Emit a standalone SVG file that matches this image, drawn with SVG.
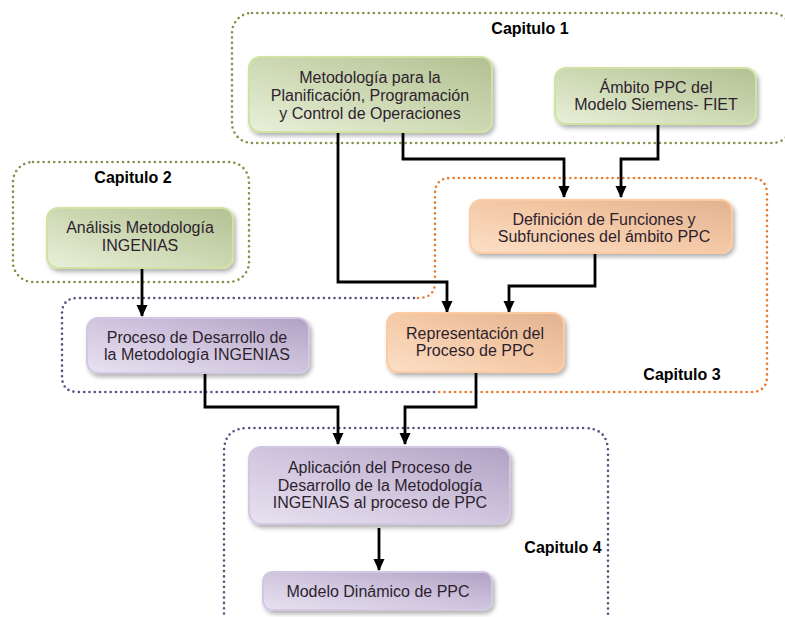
<svg xmlns="http://www.w3.org/2000/svg" width="785" height="617" viewBox="0 0 785 617">
  <defs>
    <linearGradient id="gGreen" x1="0" y1="1" x2="1" y2="0">
      <stop offset="0" stop-color="#e9f0da"/>
      <stop offset="0.55" stop-color="#cad6af"/>
      <stop offset="1" stop-color="#b3c092"/>
    </linearGradient>
    <linearGradient id="gOrange" x1="0" y1="1" x2="1" y2="0">
      <stop offset="0" stop-color="#fcdfc6"/>
      <stop offset="0.55" stop-color="#f3c7a4"/>
      <stop offset="1" stop-color="#e2b290"/>
    </linearGradient>
    <linearGradient id="gPurple" x1="0" y1="1" x2="1" y2="0">
      <stop offset="0" stop-color="#e8e2f0"/>
      <stop offset="0.55" stop-color="#cdc2dc"/>
      <stop offset="1" stop-color="#b0a1c3"/>
    </linearGradient>
    <filter id="shadow" x="-10%" y="-10%" width="125%" height="140%">
      <feDropShadow dx="2" dy="3" stdDeviation="2" flood-color="#000" flood-opacity="0.3"/>
    </filter>
    <marker id="arrow" markerUnits="userSpaceOnUse" markerWidth="12" markerHeight="12" viewBox="0 0 12 12" refX="11" refY="6" orient="auto">
      <path d="M0,0.5 L12,6 L0,11.5 z" fill="#000"/>
    </marker>
  </defs>
  <style>
    .txt { font-family: "Liberation Sans", Arial, sans-serif; font-size: 16px; fill: #2e1f2e; text-anchor: middle; }
    .cap { font-family: "Liberation Sans", Arial, sans-serif; font-size: 16px; font-weight: bold; fill: #000; text-anchor: middle; }
    .dot { fill: none; stroke-width: 2.6; stroke-linecap: round; stroke-dasharray: 0 5.3; }
    .dg { stroke: #7a9444; }
    .do { stroke: #e8782a; }
    .dp { stroke: #5f4c80; }
    .green { fill: url(#gGreen); stroke: #d0e2a4; stroke-width: 2; filter: url(#shadow); }
    .orange { fill: url(#gOrange); stroke: #fccba3; stroke-width: 2; filter: url(#shadow); }
    .purple { fill: url(#gPurple); stroke: #d3c8e3; stroke-width: 2; filter: url(#shadow); }
    .link { fill: none; stroke: #000; stroke-width: 2.8; marker-end: url(#arrow); }
  </style>

  <!-- chapter frames -->
  <g id="capitulo1">
    <rect class="dot dg" x="232" y="13" width="560" height="130" rx="20"/>
    <text class="cap" x="530" y="34">Capitulo 1</text>
  </g>
  <g id="capitulo2">
    <rect class="dot dg" x="13" y="162" width="236" height="120" rx="20"/>
    <text class="cap" x="133" y="183">Capitulo 2</text>
  </g>
  <g id="capitulo3">
    <path class="dot do" d="M418,298 Q435,298 435,282 L435,194 Q435,178 451,178 L751,178 Q767,178 767,194 L767,376 Q767,392 751,392 L434,392"/>
    <path class="dot dp" d="M434,392 L78,392 Q62,392 62,376 L62,314 Q62,298 78,298 L418,298"/>
    <text class="cap" x="682" y="380">Capitulo 3</text>
  </g>
  <g id="capitulo4">
    <path class="dot dp" d="M224,640 L224,452 Q224,428 248,428 L584,428 Q608,428 608,452 L608,640"/>
    <text class="cap" x="563" y="553">Capitulo 4</text>
  </g>

  <!-- connectors -->
  <g id="connectors">
    <path class="link" d="M338,132 L338,282 L447,282 L447,312"/>
    <path class="link" d="M403,132 L403,159 L564,159 L564,197"/>
    <path class="link" d="M658,124 L658,159 L621,159 L621,197"/>
    <path class="link" d="M595,253 L595,286 L509,286 L509,312"/>
    <path class="link" d="M142,268 L142,316"/>
    <path class="link" d="M205,373 L205,407 L338,407 L338,444"/>
    <path class="link" d="M476,372 L476,407 L405,407 L405,444"/>
    <path class="link" d="M379,528 L379,570"/>
  </g>

  <!-- nodes -->
  <g id="metodologia">
    <rect class="green" x="249" y="57" width="243" height="75" rx="11"/>
    <text class="txt" x="370" y="83">Metodología para la</text>
    <text class="txt" x="370" y="101">Planificación, Programación</text>
    <text class="txt" x="370" y="119">y Control de Operaciones</text>
  </g>
  <g id="ambito">
    <rect class="green" x="555" y="68" width="201" height="56" rx="11"/>
    <text class="txt" x="656" y="93">Ámbito PPC del</text>
    <text class="txt" x="656" y="110">Modelo Siemens- FIET</text>
  </g>
  <g id="analisis">
    <rect class="green" x="47" y="208" width="186" height="60" rx="11"/>
    <text class="txt" x="140" y="233">Análisis Metodología</text>
    <text class="txt" x="140" y="251">INGENIAS</text>
  </g>
  <g id="definicion">
    <rect class="orange" x="470" y="200" width="262" height="53" rx="11"/>
    <text class="txt" x="604" y="225">Definición de Funciones y</text>
    <text class="txt" x="604" y="242">Subfunciones del ámbito PPC</text>
  </g>
  <g id="proceso-desarrollo">
    <rect class="purple" x="87" y="318" width="222" height="55" rx="11"/>
    <text class="txt" x="197" y="343">Proceso de Desarrollo de</text>
    <text class="txt" x="197" y="360">la Metodología INGENIAS</text>
  </g>
  <g id="representacion">
    <rect class="orange" x="387" y="313" width="177" height="59" rx="11"/>
    <text class="txt" x="475" y="339">Representación del</text>
    <text class="txt" x="475" y="356">Proceso de PPC</text>
  </g>
  <g id="aplicacion">
    <rect class="purple" x="249" y="447" width="261" height="77" rx="12"/>
    <text class="txt" x="380" y="473">Aplicación del Proceso de</text>
    <text class="txt" x="380" y="491">Desarrollo de la Metodología</text>
    <text class="txt" x="380" y="508">INGENIAS al proceso de PPC</text>
  </g>
  <g id="modelo-dinamico">
    <rect class="purple" x="263" y="572" width="229" height="38" rx="9"/>
    <text class="txt" x="378" y="597">Modelo Dinámico de PPC</text>
  </g>
</svg>
